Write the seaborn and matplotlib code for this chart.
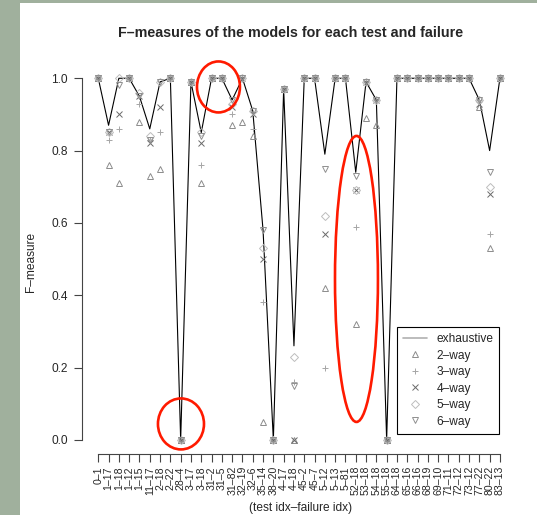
import numpy as np
import matplotlib
matplotlib.use("Agg")
import matplotlib.pyplot as plt
from matplotlib.patches import Ellipse, Rectangle
from matplotlib.lines import Line2D
import seaborn as sns

# test idx - failure idx
labels = ["0–1", "1–17", "1–18", "1–12", "1–15", "11–17", "2–18", "2–22", "28–4", "3–17",
          "3–18", "31–2", "31–5", "31–82", "32–19", "32–6", "35–14", "38–20", "4–17", "4–18",
          "45–2", "45–7", "5–12", "5–13", "5–81", "52–18", "53–18", "54–18", "55–18", "64–18",
          "65–16", "66–16", "68–19", "69–10", "71–11", "72–12", "73–12", "77–22", "80–22", "83–13"]

exhaustive = [1.0, 0.87, 1.0, 1.0, 0.95, 0.86, 0.99, 1.0, 0.0, 0.99,
              0.85, 1.0, 1.0, 0.94, 1.0, 0.91, 0.58, 0.0, 0.97, 0.26,
              1.0, 1.0, 0.79, 1.0, 1.0, 0.74, 0.99, 0.94, 0.0, 1.0,
              1.0, 1.0, 1.0, 1.0, 1.0, 1.0, 1.0, 0.94, 0.80, 1.0]
way2 = [1.0, 0.76, 0.71, 1.0, 0.88, 0.73, 0.75, 1.0, 0.0, 0.99,
        0.71, 1.0, 1.0, 0.87, 0.88, 0.84, 0.05, 0.0, 0.97, 0.0,
        1.0, 1.0, 0.42, 1.0, 1.0, 0.32, 0.89, 0.87, 0.0, 1.0,
        1.0, 1.0, 1.0, 1.0, 1.0, 1.0, 1.0, 0.92, 0.53, 1.0]
way3 = [1.0, 0.83, 0.86, 1.0, 0.93, 0.83, 0.85, 1.0, 0.0, 0.99,
        0.76, 1.0, 1.0, 0.90, 1.0, 0.86, 0.38, 0.0, 0.97, 0.16,
        1.0, 1.0, 0.20, 1.0, 1.0, 0.59, 0.99, 0.94, 0.0, 1.0,
        1.0, 1.0, 1.0, 1.0, 1.0, 1.0, 1.0, 0.94, 0.57, 1.0]
way4 = [1.0, 0.85, 0.90, 1.0, 0.95, 0.82, 0.92, 1.0, 0.0, 0.99,
        0.82, 1.0, 1.0, 0.92, 1.0, 0.90, 0.50, 0.0, 0.97, 0.0,
        1.0, 1.0, 0.57, 1.0, 1.0, 0.69, 0.99, 0.94, 0.0, 1.0,
        1.0, 1.0, 1.0, 1.0, 1.0, 1.0, 1.0, 0.93, 0.68, 1.0]
way5 = [1.0, 0.85, 1.0, 1.0, 0.96, 0.84, 0.99, 1.0, 0.0, 0.99,
        0.85, 1.0, 1.0, 0.93, 1.0, 0.91, 0.53, 0.0, 0.97, 0.23,
        1.0, 1.0, 0.62, 1.0, 1.0, 0.69, 0.99, 0.94, 0.0, 1.0,
        1.0, 1.0, 1.0, 1.0, 1.0, 1.0, 1.0, 0.94, 0.70, 1.0]
way6 = [1.0, 0.85, 0.98, 1.0, 0.95, 0.83, 0.99, 1.0, 0.0, 0.99,
        0.84, 1.0, 1.0, 0.94, 1.0, 0.91, 0.58, 0.0, 0.97, 0.15,
        1.0, 1.0, 0.75, 1.0, 1.0, 0.73, 0.99, 0.94, 0.0, 1.0,
        1.0, 1.0, 1.0, 1.0, 1.0, 1.0, 1.0, 0.94, 0.74, 1.0]

series_names = ["2–way", "3–way", "4–way", "5–way", "6–way"]

sns.set_style("ticks")
plt.rcParams['font.family'] = ['Liberation Sans', 'DejaVu Sans']

W, H = 537, 515
fig = plt.figure(figsize=(W / 100, H / 100), dpi=100, facecolor='#a0b09d')
fig.add_artist(Rectangle((20 / W, 0), 1 - 20 / W, 1 - 3 / H, transform=fig.transFigure,
                         facecolor='white', edgecolor='none', zorder=0))

# plot region in pixels: x 82..516, y 64..454
ax = fig.add_axes([82.2 / W, 1 - 454.3 / H, (516 - 82.2) / W, (454.3 - 63.8) / H])
ax.set_facecolor('none')

idx = np.arange(len(labels))

sns.lineplot(x=idx, y=exhaustive, ax=ax, color='black', lw=0.8)

styles = [('^', '#8c8c8c'), ('+', '#a6a6a6'), ('x', '#6a6a6a'), ('D', '#bdbdbd'), ('v', '#8f8f8f')]
handles = [Line2D([], [], color='#b0b0b0', lw=1.2)]
for vals, (m, c) in zip([way2, way3, way4, way5, way6], styles):
    ms = 3.8 if m == 'D' else 5.0
    sns.lineplot(x=idx, y=vals, ax=ax, marker=m, linestyle='none', color=c,
                 markerfacecolor='none', markeredgecolor=c, markersize=ms, markeredgewidth=0.7)
    handles.append(Line2D([], [], marker=m, linestyle='none', markerfacecolor='none',
                          markeredgecolor=c, markersize=ms, markeredgewidth=0.7))

ax.set_xlim(-1.56, 40.56)
ax.set_ylim(-0.04, 1.04)
ax.set_xticks(idx)
ax.set_xticklabels(labels, rotation=90, fontsize=7.6)
ax.set_yticks([0, 0.2, 0.4, 0.6, 0.8, 1.0])
ax.set_yticklabels(["0.0", "0.2", "0.4", "0.6", "0.8", "1.0"], fontsize=8.6)
ax.tick_params(direction='out', length=5.5, width=0.8, color='#444444', pad=3)
ax.tick_params(axis='y', pad=5)

for s in ['top', 'right']:
    ax.spines[s].set_visible(False)
ax.spines['left'].set_bounds(0, 1)
ax.spines['bottom'].set_bounds(0, len(labels) - 1)
for s in ['left', 'bottom']:
    ax.spines[s].set_color('#444444')
    ax.spines[s].set_linewidth(0.8)

ax.set_xlabel('')
ax.set_ylabel('')
fig.text(291 / W, 1 - 33 / H, 'F–measures of the models for each test and failure',
         ha='center', va='center', fontsize=10.3, fontweight='bold')
fig.text(301 / W, 1 - 508 / H, '(test idx–failure idx)', ha='center', va='center', fontsize=8.6)
fig.text(31 / W, 1 - 262 / H, 'F–measure', ha='center', va='center', rotation=90, fontsize=8.6)

leg = ax.legend(handles, ['exhaustive'] + series_names, loc='upper left',
                bbox_to_anchor=(397 / W, 1 - 327 / H), bbox_transform=fig.transFigure,
                borderaxespad=0, frameon=True, fancybox=False, edgecolor='black',
                framealpha=1, fontsize=8.6, labelspacing=0.38, handlelength=2.0,
                handletextpad=0.8, borderpad=0.5)
leg.get_frame().set_linewidth(0.8)

# red annotation ellipses from the screenshot
for cx, cy, w, h in [(8.03, 0.044, 4.47, 0.141), (11.67, 0.976, 4.17, 0.141), (25.07, 0.445, 4.17, 0.791)]:
    ax.add_patch(Ellipse((cx, cy), w, h, fill=False, edgecolor='#ff1a00', lw=1.9,
                         clip_on=False, zorder=5))

fig.savefig('out.png', dpi=100, facecolor=fig.get_facecolor())
